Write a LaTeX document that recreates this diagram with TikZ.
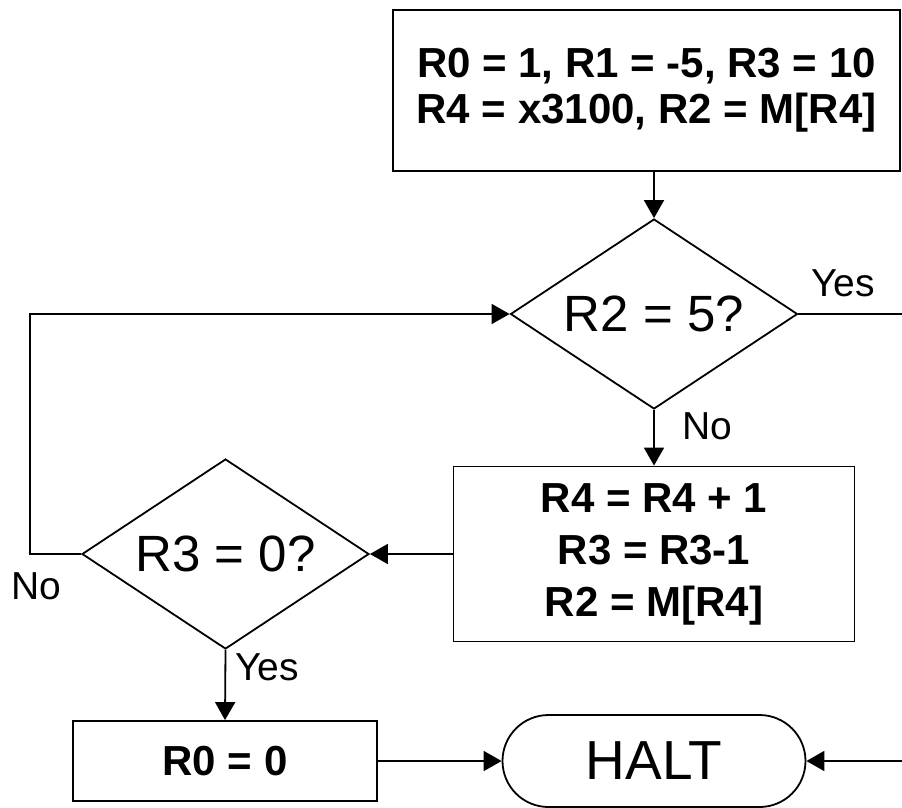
\documentclass[tikz,border=0pt]{standalone}
\usepackage{fontspec}
\setmainfont{Liberation Sans}
\usetikzlibrary{shapes.geometric,shapes.misc,arrows.meta}
\begin{document}
\begin{tikzpicture}[x=1pt,y=-1pt,
  line width=1.8pt,
  arr/.style={-{Triangle[length=18pt,width=20pt]}},
  procbox/.style={draw,rectangle,inner sep=0pt,align=center,font=\fontsize{42}{46}\selectfont\bfseries},
  decision/.style={draw,diamond,aspect=1.51,inner sep=0pt,minimum width=287pt,minimum height=190pt,font=\fontsize{51}{51}\selectfont},
  terminal/.style={draw,rounded rectangle,inner sep=0pt,minimum width=303pt,minimum height=92pt,font=\fontsize{55}{55}\selectfont},
  lbl/.style={font=\fontsize{39}{39}\selectfont,inner sep=0pt}]
\useasboundingbox (0,0) rectangle (902,807);

\node[procbox,minimum width=507pt,minimum height=161pt] (init) at (646.5,90.5)
  {R0 = 1, R1 = -5, R3 = 10\\R4 = x3100, R2 = M[R4]};
\node[decision] (d1) at (654,314) {R2 = 5?};
\node[procbox,minimum width=401pt,minimum height=175pt,font=\fontsize{42}{52}\selectfont\bfseries] (upd) at (654,554)
  {R4 = R4 + 1\\R3 = R3-1\\R2 = M[R4]};
\node[decision] (d2) at (225.5,554) {R3 = 0?};
\node[procbox,minimum width=304pt,minimum height=80pt] (clr) at (225,761) {R0 = 0};
\node[terminal] (halt) at (654,761) {HALT};

\coordinate (yesend) at (902,314);
\coordinate (haltin) at (902,761);

\draw[arr] (d1.north |- init.south) -- (d1.north);
\draw[arr] (d1.south) -- (upd.north);
\draw[arr] (upd.west) -- (d2.east);
\draw[arr] (d2.west) -- ++(-51,0) |- (d1.west);
\draw[arr] (d2.south) -- (clr.north);
\draw[arr] (clr.east) -- (halt.west);
\draw (d1.east) -- (yesend);
\draw[arr] (haltin) -- (halt.east);

\node[lbl] (yes1) at (843,283) {Yes};
\node[lbl] (no1) at (707,426) {No};
\node[lbl] (no2) at (36,586) {No};
\node[lbl] (yes2) at (267,667) {Yes};
\end{tikzpicture}
\end{document}
